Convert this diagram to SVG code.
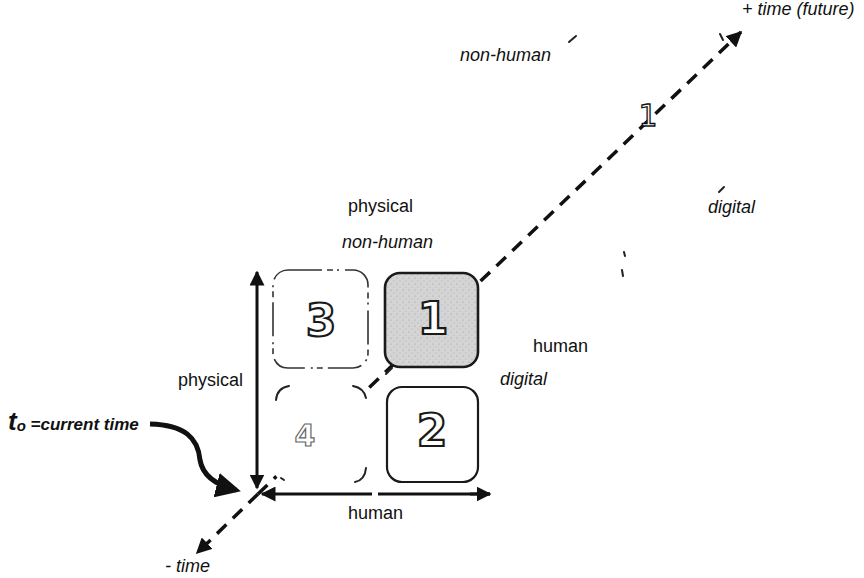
<svg xmlns="http://www.w3.org/2000/svg" width="864" height="578" viewBox="0 0 864 578">
<style>
.lbl{font-family:"Liberation Sans",Arial,sans-serif;font-size:18px;fill:#111}
.it{font-style:italic}
.num{font-family:"DejaVu Sans",sans-serif;font-weight:bold;font-size:44px;fill:#fff;stroke:#1a1a1a;stroke-width:2.2;text-anchor:middle}
.ghost{stroke:#222;stroke-width:2;fill:none;stroke-linecap:round}
.dash{stroke:#111;stroke-width:3.5;fill:none;stroke-dasharray:13 9}
.axis{stroke:#111;stroke-width:3;fill:none}
</style>
<defs>
<marker id="ah" viewBox="0 0 10 10" refX="9" refY="5" markerWidth="5" markerHeight="5" orient="auto-start-reverse" markerUnits="strokeWidth">
<path d="M0,0 L10,5 L0,10 z" fill="#111"/>
</marker>
<marker id="ahd" viewBox="0 0 10 10" refX="9" refY="5" markerWidth="4.5" markerHeight="4.5" orient="auto" markerUnits="strokeWidth">
<path d="M0,0 L10,5 L0,10 z" fill="#111"/>
</marker>
<marker id="ahc" viewBox="0 0 10 10" refX="8" refY="5" markerWidth="5" markerHeight="5" orient="auto" markerUnits="strokeWidth">
<path d="M0,0 L10,5 L0,10 z" fill="#111"/>
</marker>
<pattern id="speck" width="6" height="6" patternUnits="userSpaceOnUse">
<rect width="6" height="6" fill="#d4d4d4"/>
<circle cx="1" cy="2" r="0.6" fill="#9a9a9a"/>
<circle cx="4" cy="5" r="0.5" fill="#aaa"/>
<circle cx="5" cy="1" r="0.4" fill="#f0f0f0"/>
</pattern>
</defs>
<g id="connectors">
<path class="dash" d="M258,494 L741,32" marker-end="url(#ahd)"/>
<path class="dash" d="M258,494 L197,553" marker-end="url(#ahd)"/>
<path class="axis" d="M257,488 L257,272" marker-start="url(#ah)" marker-end="url(#ah)"/>
<path class="axis" d="M264,494 L372,494 M378,494 L490,494" />
<path class="axis" d="M275,494 L262,494" marker-end="url(#ah)"/>
<path class="axis" d="M470,494 L490,494" marker-end="url(#ah)"/>
<path d="M150,424 C185,425 198,438 200,460 C203,478 220,486 236,490" stroke="#111" stroke-width="5" fill="none" marker-end="url(#ahc)"/>
</g>
<g id="box3">
<rect x="273" y="270" width="95" height="98" rx="15" fill="#fff" stroke="#333" stroke-width="1.6" stroke-dasharray="34 5 6 4 2 6"/>
<text class="num" x="321" y="336">3</text>
</g>
<g id="box1">
<rect x="385" y="273" width="93" height="94" rx="15" fill="url(#speck)" stroke="#1a1a1a" stroke-width="2.6"/>
<text class="num" x="433" y="334">1</text>
</g>
<g id="box4">
<rect x="273" y="385" width="95" height="97" rx="15" fill="#fff" stroke="none"/>
<path class="ghost" d="M276,400 Q277,388 289,386 M353,386 Q364,388 366,398 M366,468 Q365,480 355,482" stroke-width="1.6"/>
<path d="M281,478 L284,480" class="ghost" stroke-width="1"/>
<text class="num" x="305" y="446" style="font-size:30px;stroke:#666;stroke-width:1.2">4</text>
</g>
<g id="box2">
<rect x="387" y="387" width="91" height="95" rx="15" fill="#fff" stroke="#1a1a1a" stroke-width="2.2"/>
<text class="num" x="432" y="446">2</text>
</g>
<g id="ghosts">
<path class="ghost" d="M569,42 L576,36"/>
<path class="ghost" d="M719,192 L724,187" stroke-width="1.4"/>
<path class="ghost" d="M624,252 L625,256 M622,270 L623,276" stroke-width="1.2"/>
<path class="ghost" d="M720,34 L723,40" stroke-width="1.6"/>
<path class="ghost" d="M392,368 L386,374" stroke-width="2"/>
<text x="648" y="126" style="font-family:'DejaVu Sans',sans-serif;font-size:30px;fill:#fff;stroke:#111;stroke-width:1.3;text-anchor:middle">1</text>
</g>
<g id="labels">
<text class="lbl it" x="742" y="15">+ time (future)</text>
<text class="lbl it" x="460" y="61">non-human</text>
<text class="lbl" x="348" y="212">physical</text>
<text class="lbl it" x="342" y="248">non-human</text>
<text class="lbl it" x="708" y="213">digital</text>
<text class="lbl" x="533" y="352">human</text>
<text class="lbl it" x="500" y="385">digital</text>
<text class="lbl" x="243" y="386" text-anchor="end">physical</text>
<text class="lbl" x="348" y="519">human</text>
<text class="lbl it" x="165" y="572">- time</text>
<text x="8" y="430" style="font-family:'Liberation Sans',Arial,sans-serif;font-style:italic;font-weight:bold;fill:#111"><tspan font-size="26">t</tspan><tspan font-size="15" dy="1">o</tspan><tspan font-size="17" dy="-1"> =current time</tspan></text>
</g>
</svg>
